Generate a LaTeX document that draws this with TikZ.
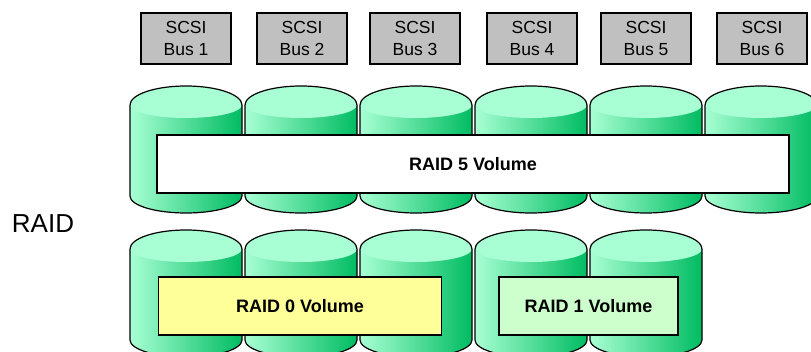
\documentclass[tikz,border=0pt]{standalone}
\usepackage{fontspec}
\setmainfont{Liberation Sans}
\definecolor{disktop}{HTML}{A8FFD3}
\definecolor{diskdark}{HTML}{00BC62}
\definecolor{busgray}{HTML}{C0C0C0}
\definecolor{volyellow}{HTML}{FFFF99}
\definecolor{volgreen}{HTML}{CCFFCC}
\tikzset{
  x=1pt,y=-1pt,
  line join=round,
  diskline/.style={black,line width=1.2pt},
  busbox/.style={draw=black,line width=1.1pt,fill=busgray,minimum width=90pt,minimum height=51pt,inner sep=0pt,align=center,font=\fontsize{17.5}{22}\selectfont},
  volbox/.style={draw=black,line width=1.1pt,minimum height=58pt,inner sep=0pt,font=\fontsize{18}{22}\selectfont\bfseries},
  pics/diskcyl/.style={code={
    \shade[left color=disktop,right color=diskdark]
      (0,19) -- (112,19) -- (112,110) arc[start angle=0,end angle=180,x radius=56,y radius=17] -- cycle;
    \fill[disktop] (0,19) arc[start angle=180,end angle=360,x radius=56,y radius=19]
      arc[start angle=0,end angle=180,x radius=56,y radius=13] -- cycle;
    \draw[diskline] (0,19) arc[start angle=180,end angle=360,x radius=56,y radius=19]
      -- (112,110) arc[start angle=0,end angle=180,x radius=56,y radius=17] -- cycle;
  }}
}
\begin{document}
\begin{tikzpicture}
\useasboundingbox (0,0) rectangle (811,352);
\clip (0,0) rectangle (811,352);
\foreach \i [evaluate=\i as \xx using 130+115*\i] in {0,...,5} {
  \pic at (\xx,86) {diskcyl};
}
\foreach \i [evaluate=\i as \xx using 130+115*\i] in {0,...,4} {
  \pic at (\xx,230) {diskcyl};
}
\node[busbox] (bus1) at (186,38.5) {SCSI\\Bus 1};
\node[busbox] (bus2) at (302,38.5) {SCSI\\Bus 2};
\node[busbox] (bus3) at (415,38.5) {SCSI\\Bus 3};
\node[busbox] (bus4) at (532,38.5) {SCSI\\Bus 4};
\node[busbox] (bus5) at (646,38.5) {SCSI\\Bus 5};
\node[busbox] (bus6) at (762,38.5) {SCSI\\Bus 6};
\node[volbox,fill=white,minimum width=632pt] (r5) at (473,164) {RAID 5 Volume};
\node[volbox,fill=volyellow,minimum width=283pt] (r0) at (300,306) {RAID 0 Volume};
\node[volbox,fill=volgreen,minimum width=179pt] (r1) at (588.5,306) {RAID 1 Volume};
\node[font=\fontsize{26}{30}\selectfont,inner sep=0pt] (raid) at (43,224) {RAID};
\end{tikzpicture}
\end{document}
